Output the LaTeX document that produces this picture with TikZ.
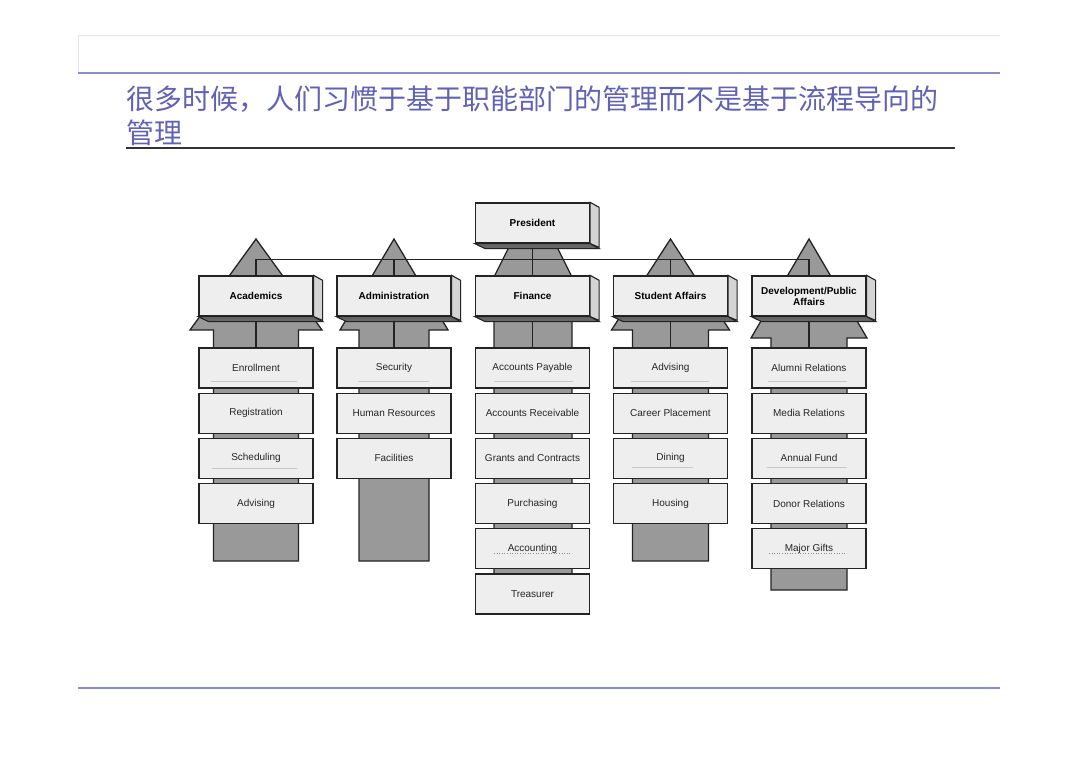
\documentclass[tikz,border=0pt]{standalone}
\usepackage{fontspec}
\setmainfont{Liberation Sans}
\newfontfamily\cjk{Noto Sans CJK SC}
\definecolor{titleblue}{RGB}{98,98,178}
\definecolor{ruleblue}{RGB}{140,140,205}
\definecolor{arrowgray}{RGB}{153,153,153}
\definecolor{boxfill}{RGB}{238,238,238}
\definecolor{sidefill}{RGB}{212,212,212}
\definecolor{edgec}{RGB}{35,35,35}
\tikzset{
 hdr/.style={draw=edgec, line width=1.3pt, fill=boxfill, minimum width=114pt, minimum height=40pt, inner sep=1pt, font=\fontsize{10}{11}\selectfont\bfseries, text=black, align=center},
 sub/.style={draw=edgec, line width=1.3pt, fill=boxfill, minimum width=114pt, minimum height=40pt, inner sep=1pt, font=\fontsize{10}{11}\selectfont, text=black!85},
 arrowbody/.style={draw=edgec, line width=1.3pt, fill=arrowgray, line join=miter},
 conn/.style={draw=edgec, line width=1.3pt},
 faint/.style={draw=black!22, line width=0.6pt},
 faintdot/.style={draw=black!45, line width=0.6pt, dotted},
 sideface/.style={fill=sidefill, draw=edgec, line width=1.1pt, line join=miter},
 bottomface/.style={fill=black!60, draw=edgec, line width=1.1pt, line join=miter},
}
\newcommand\threed[1]{%
 \filldraw[sideface] (#1.north east) -- ++(9,5) -- ++(0,40) -- (#1.south east) -- cycle;
 \filldraw[bottomface] (#1.south west) -- (#1.south east) -- ++(9,5) -- ++(-114,0) -- cycle;}
\newcommand\grayarrow[5]{%
 \filldraw[arrowbody] (#1,239) -- ({#1+#3},#2) -- ({#1+#4},#2) -- ({#1+#4},#5) -- ({#1-#4},#5) -- ({#1-#4},#2) -- ({#1-#3},#2) -- cycle;}
\begin{document}
\begin{tikzpicture}[x=1pt,y=-1pt]
\useasboundingbox (0,0) rectangle (1080,763);
\fill[white] (0,0) rectangle (1080,763);
% page frame
\draw[black!10, line width=0.8pt] (78,73) -- (78,35) -- (1000,35);
\draw[ruleblue, line width=1.6pt] (78,73) -- (1000,73);
\draw[ruleblue, line width=1.6pt] (78,688) -- (1000,688);
\node[anchor=base west, inner sep=0, text=titleblue, font=\cjk\fontsize{28}{30}\selectfont] (t1) at (126,109) {很多时候，人们习惯于基于职能部门的管理而不是基于流程导向的};
\node[anchor=base west, inner sep=0, text=titleblue, font=\cjk\fontsize{28}{30}\selectfont] (t2) at (126,143) {管理};
\draw[black!80, line width=1.3pt] (126,148) -- (955,148);
% gray arrows
\grayarrow{256}{330}{66}{42.5}{561}
\grayarrow{394}{330}{54}{35}{561}
\filldraw[arrowbody] (512.5,240) -- (553.5,240) -- (572,277) -- (572,600) -- (494,600) -- (494,277) -- cycle;
\grayarrow{670.5}{330}{59}{38}{561}
\grayarrow{809}{338}{58}{38}{590}
% nodes
\node[hdr] (pres) at (532.5,223) {President};
\node[hdr] (acad) at (256,296) {Academics};
\node[hdr] (adm) at (394,296) {Administration};
\node[hdr] (fin) at (532.5,296) {Finance};
\node[hdr] (stu) at (670.5,296) {Student Affairs};
\node[hdr] (dev) at (809,296) {Development/Public\\Affairs};
% sub boxes
\node[sub] (a1) at (256,368) {Enrollment};
\node[sub] (a2) at (256,413.2) {Registration};
\node[sub] (a3) at (256,458.4) {Scheduling};
\node[sub] (a4) at (256,503.6) {Advising};
\node[sub] (b1) at (394,368) {Security};
\node[sub] (b2) at (394,413.2) {Human Resources};
\node[sub] (b3) at (394,458.4) {Facilities};
\node[sub] (f1) at (532.5,368) {Accounts Payable};
\node[sub] (f2) at (532.5,413.2) {Accounts Receivable};
\node[sub] (f3) at (532.5,458.4) {Grants and Contracts};
\node[sub] (f4) at (532.5,503.6) {Purchasing};
\node[sub] (f5) at (532.5,548.8) {Accounting};
\node[sub] (f6) at (532.5,594) {Treasurer};
\node[sub] (s1) at (670.5,368) {Advising};
\node[sub] (s2) at (670.5,413.2) {Career Placement};
\node[sub] (s3) at (670.5,458.4) {Dining};
\node[sub] (s4) at (670.5,503.6) {Housing};
\node[sub] (d1) at (809,368) {Alumni Relations};
\node[sub] (d2) at (809,413.2) {Media Relations};
\node[sub] (d3) at (809,458.4) {Annual Fund};
\node[sub] (d4) at (809,503.6) {Donor Relations};
\node[sub] (d5) at (809,548.8) {Major Gifts};
% connectors
\draw[conn] (acad.north) -- ++(0,-16) -| (dev.north);
\draw[conn] (adm.north) -- ++(0,-16);
\draw[conn] (stu.north) -- ++(0,-16);
\draw[conn] (pres.south) -- (fin.north);
\draw[conn] (acad.south) -- (a1.north);
\draw[conn] (adm.south) -- (b1.north);
\draw[conn] (fin.south) -- (f1.north);
\draw[conn] (stu.south) -- (s1.north);
\draw[conn] (dev.south) -- (d1.north);
% 3D faces of the header boxes
\foreach \n in {pres,acad,adm,fin,stu,dev}{\threed{\n}}
% faint field lines inside some boxes
\draw[faint] (211,381) -- (297,381);
\draw[faint] (358,381) -- (429,381);
\draw[faint] (494,381) -- (573,381);
\draw[faint] (631,381) -- (709,381);
\draw[faint] (768,381) -- (847,381);
\draw[faint] (212,468) -- (297,468);
\draw[faint] (632,467) -- (693,467);
\draw[faint] (767,467) -- (847,467);
\draw[faintdot] (494,553) -- (572,553);
\draw[faintdot] (769,553) -- (847,553);
\end{tikzpicture}
\end{document}
